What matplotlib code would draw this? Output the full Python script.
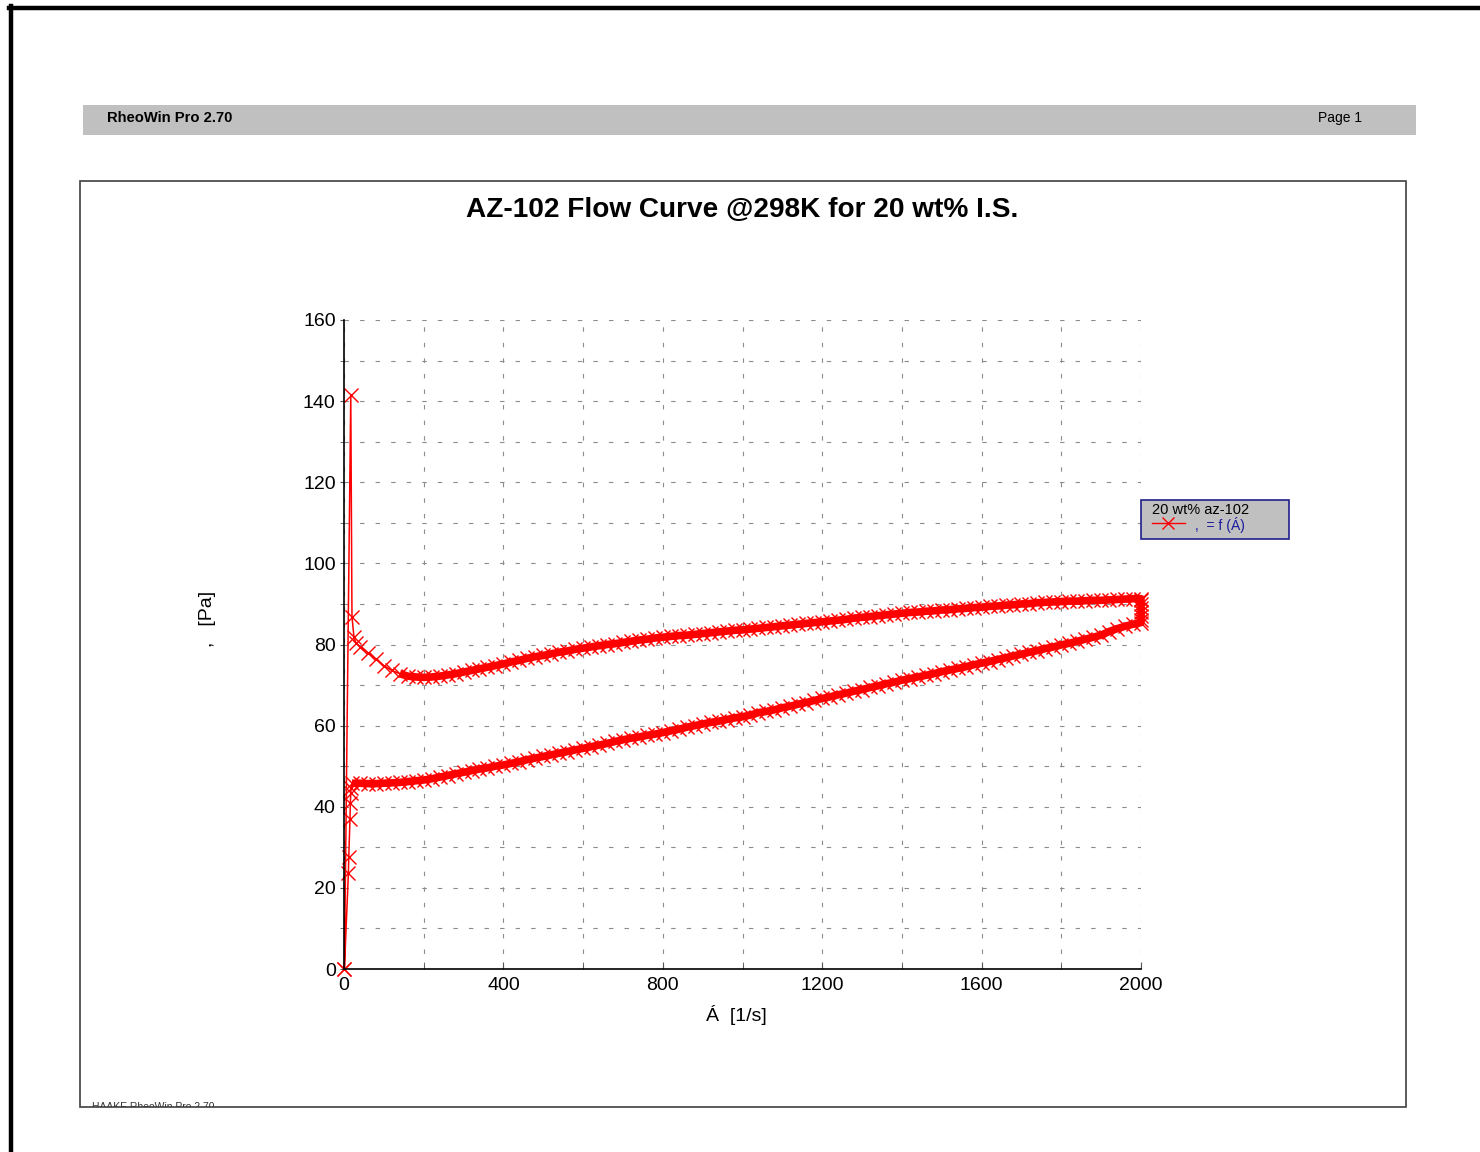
import matplotlib.pyplot as plt
from matplotlib.patches import Rectangle
from matplotlib.lines import Line2D

plt.rcParams['font.family'] = ['Liberation Sans', 'DejaVu Sans']

W, H = 1480, 1152

# start-up points of the up ramp
rate_start = [1, 11, 12, 15, 16, 17, 18]
tau_start = [0.0, 23.6, 27.7, 36.9, 41.0, 43.3, 44.6]

# up ramp 20 -> 2000 1/s
rate_up = [20, 40, 60, 80, 100, 120, 140, 160, 180, 200,
           220, 240, 260, 280, 300, 320, 340, 360, 380, 400,
           420, 440, 460, 480, 500, 520, 540, 560, 580, 600,
           620, 640, 660, 680, 700, 720, 740, 760, 780, 800,
           820, 840, 860, 880, 900, 920, 940, 960, 980, 1000,
           1020, 1040, 1060, 1080, 1100, 1120, 1140, 1160, 1180, 1200,
           1220, 1240, 1260, 1280, 1300, 1320, 1340, 1360, 1380, 1400,
           1420, 1440, 1460, 1480, 1500, 1520, 1540, 1560, 1580, 1600,
           1620, 1640, 1660, 1680, 1700, 1720, 1740, 1760, 1780, 1800,
           1820, 1840, 1860, 1880, 1900, 1920, 1940, 1960, 1980, 2000]
tau_up = [45.8, 45.8, 45.7, 45.7, 45.8, 45.9, 46.0, 46.2, 46.4, 46.6,
          46.9, 47.3, 47.7, 48.1, 48.5, 48.9, 49.3, 49.6, 50.0, 50.3,
          50.7, 51.1, 51.6, 52.0, 52.4, 52.8, 53.2, 53.6, 54.0, 54.4,
          54.8, 55.2, 55.6, 56.1, 56.5, 56.9, 57.2, 57.6, 57.9, 58.3,
          58.7, 59.1, 59.6, 60.0, 60.4, 60.8, 61.1, 61.5, 61.9, 62.2,
          62.6, 63.2, 63.5, 63.9, 64.4, 64.8, 65.3, 65.7, 66.2, 66.7,
          67.1, 67.6, 68.0, 68.5, 68.9, 69.4, 69.8, 70.3, 70.7, 71.2,
          71.6, 72.0, 72.4, 72.8, 73.3, 73.7, 74.1, 74.5, 75.0, 75.4,
          75.8, 76.3, 76.7, 77.2, 77.6, 78.1, 78.5, 79.0, 79.4, 79.9,
          80.3, 80.8, 81.3, 81.8, 82.3, 83.2, 83.9, 84.5, 85.0, 85.4]

# hold at 2000 1/s
rate_hold = [2000, 2000, 2000, 2000, 2000, 2000]
tau_hold = [86.0, 87.0, 88.0, 89.0, 90.0, 91.0]

# down ramp 2000 -> 40 1/s
rate_down = rate_up[:0:-1]
tau_down = [91.3, 91.3, 91.2, 91.1, 91.0, 90.9, 90.9, 90.8, 90.7, 90.7,
            90.6, 90.5, 90.4, 90.3, 90.1, 90.0, 89.8, 89.7, 89.5, 89.4,
            89.2, 89.1, 88.9, 88.8, 88.6, 88.5, 88.3, 88.2, 88.0, 87.9,
            87.7, 87.5, 87.3, 87.1, 86.9, 86.7, 86.5, 86.2, 86.0, 85.8,
            85.6, 85.4, 85.2, 85.0, 84.8, 84.6, 84.4, 84.2, 84.0, 83.8,
            83.6, 83.5, 83.3, 83.1, 82.9, 82.7, 82.5, 82.3, 82.2, 82.0,
            81.8, 81.6, 81.3, 81.1, 80.8, 80.5, 80.2, 80.0, 79.7, 79.4,
            79.1, 78.8, 78.4, 78.1, 77.7, 77.3, 77.0, 76.6, 76.1, 75.7,
            75.2, 74.8, 74.4, 74.0, 73.6, 73.2, 72.8, 72.5, 72.2, 72.0,
            71.9, 72.0, 72.2, 72.8, 73.6, 74.8, 76.4, 78.0, 79.5]

# end of the down ramp
rate_end = [30, 25, 20, 17, 1]
tau_end = [80.4, 81.8, 86.9, 141.5, 0.0]

rate = rate_start + rate_up + rate_hold + rate_down + rate_end
tau = tau_start + tau_up + tau_hold + tau_down + tau_end

# dense part of the loop, drawn as a solid band under the markers
rate_loop = rate_up + rate_hold + rate_down[:-5]
tau_loop = tau_up + tau_hold + tau_down[:-5]


def fx(px):
    return px / W


def fy(py):
    return 1 - py / H


fig = plt.figure(figsize=(W / 100, H / 100), dpi=100)

# page border
fig.add_artist(Line2D([fx(10.5), fx(10.5)], [0, fy(6)], color='black', lw=3.2))
fig.add_artist(Line2D([fx(8.5), 1], [fy(8.3), fy(8.3)], color='black', lw=3.2))

# header bar
fig.add_artist(Rectangle((fx(83), fy(135)), fx(1416) - fx(83), (135 - 105) / H,
                         transform=fig.transFigure, facecolor='#c0c0c0', edgecolor='none'))
fig.text(fx(107), fy(118), 'RheoWin Pro 2.70', fontsize=10.6, fontweight='bold', va='center')
fig.text(fx(1362), fy(118), 'Page 1', fontsize=10, ha='right', va='center')

# chart frame
frame = Rectangle((fx(80), fy(1107)), fx(1406) - fx(80), (1107 - 181) / H,
                  transform=fig.transFigure, facecolor='none', edgecolor='#404040', lw=1.2)
fig.add_artist(frame)
foot = fig.text(fx(92), fy(1102), 'HAAKE RheoWin Pro 2.70', fontsize=7.5, va='top', color='#333333')
foot.set_clip_path(frame)

fig.text(fx(742), fy(210), 'AZ-102 Flow Curve @298K for 20 wt% I.S.', fontsize=20.2,
         fontweight='bold', ha='center', va='center')

ax = fig.add_axes([fx(344), fy(969), fx(1141) - fx(344), (969 - 320) / H])
ax.plot(rate_loop, tau_loop, '-', color='#ff0000', lw=5.5, solid_capstyle='butt', clip_on=False)
ax.plot(rate, tau, '-x', color='#ff0000', lw=1.1, ms=9.5, mew=1.0, clip_on=False)
ax.set_xlim(0, 2000)
ax.set_ylim(0, 160)
ax.set_xticks([0, 400, 800, 1200, 1600, 2000])
ax.set_xticks(range(200, 2000, 400), minor=True)
ax.set_yticks(range(0, 161, 20))
ax.set_yticks(range(10, 160, 20), minor=True)
ax.grid(True, which='both', color='#8c8c8c', ls=(0, (4, 10)), lw=0.8)
for s in ['top', 'right']:
    ax.spines[s].set_visible(False)
ax.spines['left'].set_linewidth(1.2)
ax.spines['bottom'].set_linewidth(1.2)
ax.tick_params(axis='x', which='both', direction='in', length=5, color='#555555',
               labelsize=14, pad=6)
ax.tick_params(axis='y', which='both', direction='out', length=3, color='#555555',
               labelsize=14, pad=3)

fig.text(fx(736), fy(1015), 'Á  [1/s]', fontsize=14, ha='center', va='center')
fig.text(fx(208), fy(619), ',   [Pa]', fontsize=14, ha='center', va='center', rotation=90)

# legend box
fig.add_artist(Rectangle((fx(1141), fy(539)), fx(1289) - fx(1141), (539 - 500) / H,
                         transform=fig.transFigure, facecolor='#c0c0c0', edgecolor='#20208a', lw=1.2))
fig.text(fx(1152), fy(510), '20 wt% az-102', fontsize=10.5, va='center')
fig.add_artist(Line2D([fx(1152), fx(1185)], [fy(523), fy(523)], color='#ff0000', lw=1.0))
fig.add_artist(Line2D([fx(1168)], [fy(523)], color='#ff0000', marker='x', ms=9, mew=1.0))
fig.text(fx(1195), fy(525), ',  = f (Á)', fontsize=10, va='center', color='#1a1aa0')

fig.savefig('out.png', dpi=100)
